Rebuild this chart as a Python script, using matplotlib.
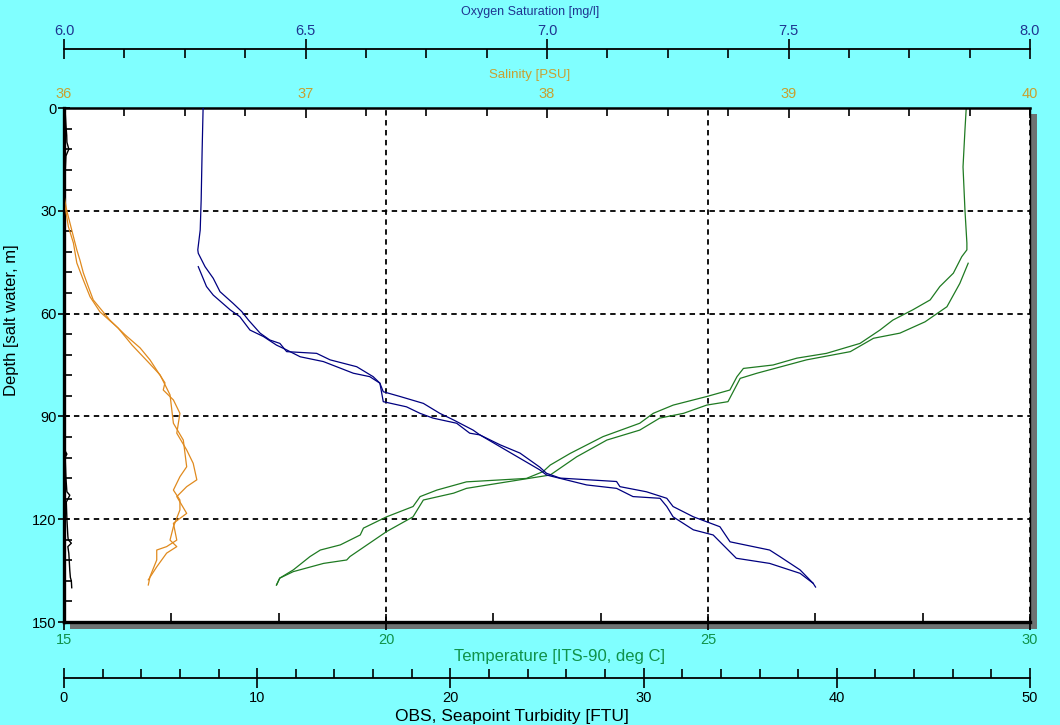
import numpy as np
import matplotlib.pyplot as plt
from matplotlib.patches import Rectangle
from matplotlib.ticker import MultipleLocator, FormatStrFormatter

plt.rcParams['font.family'] = ['Liberation Sans', 'DejaVu Sans']

# ---- oxygen saturation [mg/l] ----
oxy_surf_depth = [0, 12.3, 26.8, 35.6, 41.4]
oxy_surf = [6.288, 6.286, 6.284, 6.282, 6.277]

oxy_down_depth = [42.4, 46.3, 49.7, 53.6, 57.0, 59.4, 61.9, 65.7, 67.7, 68.7, 71.1, 71.6, 73.5,
                  75.5, 78.4, 80.3, 82.8, 84.2, 86.2, 89.1, 91.0, 94.0, 95.4, 98.3, 100.7, 104.8,
                  106.6, 108.0, 109.0, 110.5, 112.0, 113.9, 116.3, 119.3, 122.2, 126.6, 129.0,
                  130.9, 134.8, 138.7, 139.8]
oxy_down = [6.278, 6.292, 6.309, 6.323, 6.350, 6.368, 6.382, 6.406, 6.426, 6.447, 6.461, 6.523, 6.551,
            6.606, 6.640, 6.654, 6.661, 6.696, 6.744, 6.778, 6.806, 6.847, 6.861, 6.903, 6.944, 6.985,
            6.999, 7.027, 7.144, 7.151, 7.206, 7.248, 7.261, 7.303, 7.358, 7.379, 7.461,
            7.482, 7.524, 7.551, 7.556]

oxy_up_depth = [46.3, 52.1, 54.6, 58.9, 60.9, 64.8, 66.7, 69.2, 70.6, 72.6, 74.0, 77.4, 78.4, 80.3,
                85.7, 87.2, 89.1, 90.5, 92.0, 94.9, 95.4, 105.6, 107.1, 110.0, 111.0, 113.4, 113.9,
                116.3, 119.3, 123.1, 124.6, 131.4, 132.9, 135.8, 138.7]
oxy_up = [6.278, 6.295, 6.309, 6.344, 6.364, 6.385, 6.413, 6.440, 6.461, 6.489, 6.537, 6.599, 6.633, 6.654,
          6.661, 6.709, 6.737, 6.764, 6.813, 6.840, 6.861, 6.985, 6.999, 7.082, 7.144, 7.178, 7.234,
          7.248, 7.261, 7.303, 7.344, 7.392, 7.461, 7.524, 7.551]

# ---- temperature [deg C] ----
temp_surf_depth = [0, 6.4, 17.2, 29.8, 39.4, 41.4]
temp_surf = [29.01, 28.99, 28.96, 28.99, 29.02, 29.02]

temp_down_depth = [43.4, 48.2, 52.1, 56.0, 58.9, 61.9, 64.8, 68.7, 71.6, 73.0, 75.0, 76.0, 78.4, 82.3,
                   84.2, 86.7, 89.1, 92.0, 95.9, 100.8, 104.2, 106.1, 108.1, 109.1, 111.5, 113.4,
                   116.3, 119.3, 122.6, 124.6, 127.5, 129.0, 130.9, 134.8, 137.2, 139.2]
temp_down = [28.94, 28.81, 28.60, 28.45, 28.18, 27.87, 27.67, 27.36, 26.84, 26.38, 26.01, 25.55, 25.45, 25.34,
             24.98, 24.46, 24.15, 23.94, 23.37, 22.86, 22.55, 22.44, 22.18, 21.25, 20.79, 20.53,
             20.42, 20.01, 19.65, 19.60, 19.29, 18.98, 18.82, 18.56, 18.35, 18.30]

temp_up_depth = [45.3, 51.2, 58.0, 62.4, 65.7, 67.2, 71.1, 73.5, 77.4, 78.9, 85.7, 86.7, 89.1, 90.5,
                 94.0, 96.9, 101.8, 107.1, 108.5, 111.0, 112.4, 114.4, 119.3, 123.6, 130.9, 131.9,
                 132.9, 135.3, 137.2, 139.2]
temp_up = [29.04, 28.91, 28.71, 28.37, 27.98, 27.57, 27.21, 26.53, 25.76, 25.50, 25.31, 24.98, 24.62, 24.25,
           23.94, 23.43, 22.96, 22.55, 22.08, 21.25, 21.05, 20.58, 20.42, 20.01, 19.44, 19.39,
           19.03, 18.56, 18.35, 18.30]

# ---- salinity [PSU] ----
sal_down_depth = [22.0, 25.4, 29.8, 35.6, 41.4, 44.4, 48.1, 52.2, 56.0, 61.9, 66.2, 70.0, 73.5, 80.2,
                  82.3, 85.2, 89.1, 94.9, 99.8, 103.7, 108.5, 110.5, 113.4, 118.3, 121.2, 126.1,
                  128.0, 129.0, 131.9, 136.8, 139.2]
sal_down = [35.98, 36.000, 36.011, 36.032, 36.053, 36.066, 36.080, 36.101, 36.121, 36.190, 36.253, 36.315,
            36.356, 36.418, 36.411, 36.453, 36.480, 36.467, 36.508, 36.535, 36.550, 36.508, 36.467,
            36.508, 36.453, 36.467, 36.425, 36.384, 36.384, 36.356, 36.349]

sal_up_depth = [24.0, 26.8, 34.6, 39.4, 45.2, 50.2, 55.1, 59.5, 64.2, 69.2, 74.1, 77.9, 83.7, 92.0,
                96.9, 104.7, 107.6, 111.5, 114.4, 117.3, 122.2, 126.1, 128.0, 129.9, 133.9, 137.7]
sal_up = [35.98, 36.000, 36.018, 36.039, 36.053, 36.080, 36.108, 36.149, 36.224, 36.282, 36.348, 36.398,
          36.439, 36.453, 36.494, 36.508, 36.480, 36.453, 36.480, 36.480, 36.453, 36.439, 36.467,
          36.425, 36.384, 36.349]

# ---- OBS turbidity [FTU] ----
turb_depth = [0, 5, 8, 10, 12, 14, 20, 30, 60, 90, 100, 101, 102, 108, 112, 113, 115, 120, 125, 126,
              127, 128, 130, 135, 137, 138, 140]
turb = [0.05, 0.10, 0.14, 0.15, 0.25, 0.10, 0.05, 0.02, 0.02, 0.03, 0.05, 0.15, 0.06, 0.10, 0.15, 0.30,
        0.12, 0.15, 0.20, 0.22, 0.38, 0.20, 0.25, 0.30, 0.33, 0.38, 0.40]

navy = '#000080'
navy_txt = '#1f3590'
orange = '#e08a1e'
orange_txt = '#c8a030'
green = '#1f7a22'
green_txt = '#10924a'
cyan = '#80ffff'

fig = plt.figure(figsize=(10.6, 7.25), dpi=100)
fig.patch.set_facecolor(cyan)
W, H = 1060.0, 725.0
x0, x1, y0, y1 = 64, 1030, 108, 622
ax = fig.add_axes([x0 / W, 1 - y1 / H, (x1 - x0) / W, (y1 - y0) / H])

# drop shadow behind the plot area
fig.patches.append(Rectangle((70 / W, 1 - 629 / H), (1037 - 70) / W, (629 - 114) / H,
                             transform=fig.transFigure, facecolor='#6e7272',
                             edgecolor='none', zorder=-1))

# temperature / depth (main axes)
ax.plot(temp_surf + temp_down, temp_surf_depth + temp_down_depth, color=green, lw=0.9)
ax.plot(temp_up, temp_up_depth, color=green, lw=0.9)
ax.set_xlim(15, 30)
ax.set_ylim(150, 0)
ax.xaxis.set_major_locator(MultipleLocator(5))
ax.xaxis.set_minor_locator(MultipleLocator(5 / 3))
ax.yaxis.set_major_locator(MultipleLocator(30))
ax.yaxis.set_minor_locator(MultipleLocator(6))
ax.grid(True, which='major', color='black', linestyle=(0, (3, 2.5)), lw=1.3)
ax.tick_params(axis='x', which='major', direction='inout', length=12, width=1.2,
               labelcolor=green_txt, labelsize=10.5, pad=2)
ax.tick_params(axis='x', which='minor', direction='in', length=6.5, width=1.2)
ax.tick_params(axis='y', which='major', direction='inout', length=9, width=1.2,
               labelsize=10.5, pad=1)
ax.tick_params(axis='y', which='minor', direction='in', length=5.5, width=1.2)
ax.spines['left'].set_linewidth(2.4)
ax.spines['bottom'].set_linewidth(2.4)
ax.spines['top'].set_linewidth(1.8)
ax.spines['right'].set_linewidth(1.0)

# salinity on the top frame
ax_s = ax.twiny()
ax_s.plot(sal_down, sal_down_depth, color=orange, lw=0.9)
ax_s.plot(sal_up, sal_up_depth, color=orange, lw=0.9)
ax_s.set_xlim(36, 40)
ax_s.xaxis.set_major_locator(MultipleLocator(1))
ax_s.xaxis.set_minor_locator(MultipleLocator(0.25))
ax_s.tick_params(axis='x', which='major', direction='in', length=7.5, width=1.2,
                 labelcolor=orange_txt, labelsize=10.5, pad=5)
ax_s.tick_params(axis='x', which='minor', direction='in', length=6, width=1.2)
for sp in ax_s.spines.values():
    sp.set_visible(False)

# oxygen on a detached top axis
ax_o = ax.twiny()
ax_o.plot(oxy_surf + oxy_down, oxy_surf_depth + oxy_down_depth, color=navy, lw=0.9)
ax_o.plot(oxy_up, oxy_up_depth, color=navy, lw=0.9)
ax_o.set_xlim(6, 8)
ax_o.xaxis.set_major_locator(MultipleLocator(0.5))
ax_o.xaxis.set_minor_locator(MultipleLocator(0.125))
ax_o.xaxis.set_major_formatter(FormatStrFormatter('%.1f'))
ax_o.tick_params(axis='x', which='major', direction='inout', length=14, width=1.2,
                 labelcolor=navy_txt, labelsize=10.5, pad=1)
ax_o.tick_params(axis='x', which='minor', direction='in', length=6.5, width=1.2)
for name, sp in ax_o.spines.items():
    sp.set_visible(name == 'top')
ax_o.spines['top'].set_position(('outward', 59 * 72 / 100))
ax_o.spines['top'].set_linewidth(1.3)

# turbidity on a detached bottom axis
ax_t = ax.twiny()
ax_t.plot(turb, turb_depth, color='black', lw=1.0)
ax_t.set_xlim(0, 50)
ax_t.xaxis.set_ticks_position('bottom')
ax_t.xaxis.set_label_position('bottom')
ax_t.xaxis.set_major_locator(MultipleLocator(10))
ax_t.xaxis.set_minor_locator(MultipleLocator(2))
ax_t.tick_params(axis='x', which='major', direction='inout', length=14, width=1.2,
                 labelsize=10.5, pad=2)
ax_t.tick_params(axis='x', which='minor', direction='in', length=6.5, width=1.2)
for name, sp in ax_t.spines.items():
    sp.set_visible(name == 'bottom')
ax_t.spines['bottom'].set_position(('outward', 56 * 72 / 100))
ax_t.spines['bottom'].set_linewidth(1.3)

# axis titles
fig.text(530 / W, 1 - 12 / H, 'Oxygen Saturation [mg/l]', color=navy_txt, fontsize=9,
         ha='center', va='center')
fig.text(530 / W, 1 - 75 / H, 'Salinity [PSU]', color=orange_txt, fontsize=9.5,
         ha='center', va='center')
fig.text(560 / W, 1 - 656 / H, 'Temperature [ITS-90, deg C]', color=green_txt, fontsize=12,
         ha='center', va='center')
fig.text(512 / W, 1 - 716 / H, 'OBS, Seapoint Turbidity [FTU]', color='black', fontsize=12.5,
         ha='center', va='center')
fig.text(12 / W, 1 - 320 / H, 'Depth [salt water, m]', color='black', fontsize=12,
         rotation=90, ha='center', va='center')

fig.savefig('out.png', dpi=100, facecolor=fig.get_facecolor())
